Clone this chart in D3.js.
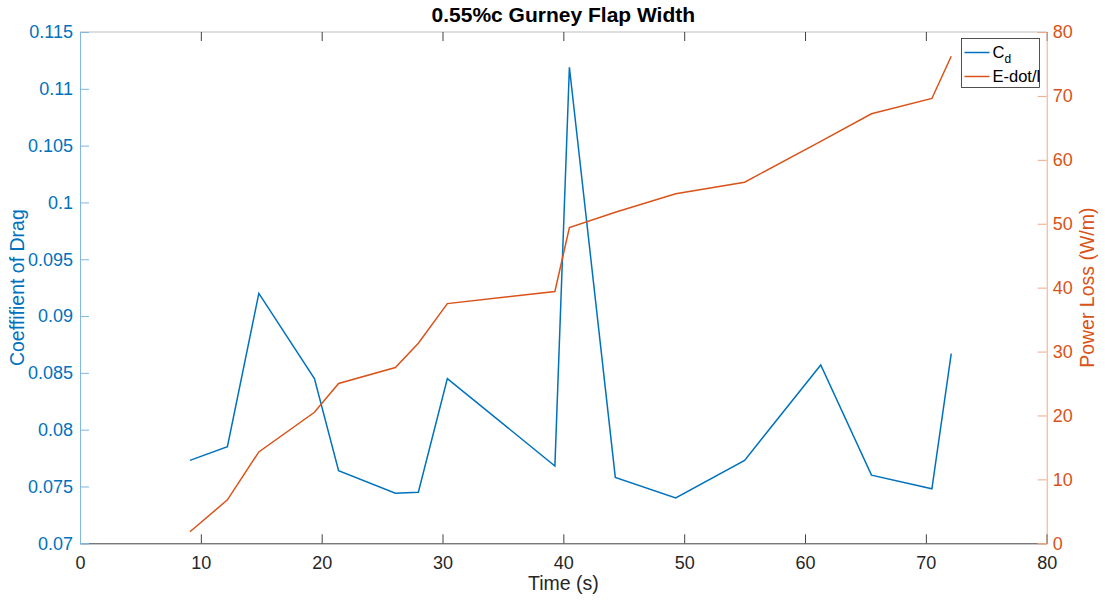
<!DOCTYPE html>
<html>
<head>
<meta charset="utf-8">
<script src="https://cdn.jsdelivr.net/npm/d3@7"></script>
<style>
  body { margin: 0; background: #fff; }
  text { font-family: "Liberation Sans", Arial, sans-serif; }
</style>
</head>
<body>
<svg width="1105" height="603"></svg>
<script>
// values
let time = [9.1, 12.2, 14.8, 19.4, 21.4, 26.1, 28.0, 30.4, 39.3, 40.5, 44.3, 49.3, 55.0, 61.3, 65.5, 70.5, 72.1]
let cd = [0.0773, 0.0785, 0.0920, 0.0845, 0.0764, 0.0744, 0.0745, 0.0845, 0.0768, 0.1119, 0.0758, 0.0740, 0.0773, 0.0857, 0.0760, 0.0748, 0.0867]
let power = [1.8, 6.8, 14.3, 20.5, 25.0, 27.5, 31.3, 37.5, 39.4, 49.4, 51.8, 54.7, 56.5, 62.9, 67.2, 69.6, 76.2]
let xTicks = [0, 10, 20, 30, 40, 50, 60, 70, 80]
let leftTicks = [0.07, 0.075, 0.08, 0.085, 0.09, 0.095, 0.1, 0.105, 0.11, 0.115]
let rightTicks = [0, 10, 20, 30, 40, 50, 60, 70, 80]

let blue = '#0072BD', orange = '#D95319'
let pLeft = 80, pRight = 1046.7, pTop = 32, pBottom = 543.3

let svg = d3.select('svg')
let x = d3.scaleLinear().domain([0, 80]).range([pLeft, pRight])
let yL = d3.scaleLinear().domain([0.07, 0.115]).range([pBottom, pTop])
let yR = d3.scaleLinear().domain([0, 80]).range([pBottom, pTop])

// top box line
svg.append('line')
  .attr('x1', pLeft).attr('x2', pRight).attr('y1', pTop).attr('y2', pTop)
  .attr('stroke', '#bdbdbd').attr('stroke-width', 1)

// bottom axis
let xAxis = svg.append('g').attr('transform', `translate(0,${pBottom})`)
  .call(d3.axisBottom(x).tickValues(xTicks).tickSize(-9).tickPadding(13).tickFormat(d3.format('d')))
xAxis.select('.domain').attr('stroke', '#404040')
xAxis.selectAll('.tick line').attr('stroke', '#404040')
xAxis.selectAll('text').attr('fill', '#262626').style('font-size', '18px')

// top ticks
svg.append('g').attr('transform', `translate(0,${pTop})`)
  .call(d3.axisTop(x).tickValues(xTicks).tickSize(-9).tickFormat(''))
  .call(g => g.select('.domain').remove())
  .selectAll('.tick line').attr('stroke', '#404040')

// left axis
let lAxis = svg.append('g').attr('transform', `translate(${pLeft},0)`)
  .call(d3.axisLeft(yL).tickValues(leftTicks).tickSize(-9).tickPadding(7).tickFormat(d => String(+d.toFixed(3))))
lAxis.select('.domain').attr('stroke', '#7fb8e0')
lAxis.selectAll('.tick line').attr('stroke', '#7fb8e0')
lAxis.selectAll('text').attr('fill', blue).style('font-size', '18px')

// right axis
let rAxis = svg.append('g').attr('transform', `translate(${pRight},0)`)
  .call(d3.axisRight(yR).tickValues(rightTicks).tickSize(-9).tickPadding(6))
rAxis.select('.domain').attr('stroke', '#f0a987')
rAxis.selectAll('.tick line').attr('stroke', '#f0a987')
rAxis.selectAll('text').attr('fill', orange).style('font-size', '18px')

// lines
let cdLine = d3.line().x((d, i) => x(time[i])).y(d => yL(d))
let pLine = d3.line().x((d, i) => x(time[i])).y(d => yR(d))

svg.append('path').datum(cd).attr('d', cdLine)
  .attr('fill', 'none').attr('stroke', blue).attr('stroke-width', 1.5)
svg.append('path').datum(power).attr('d', pLine)
  .attr('fill', 'none').attr('stroke', orange).attr('stroke-width', 1.5)

// titles
svg.append('text').attr('x', (pLeft + pRight) / 2).attr('y', 22)
  .attr('text-anchor', 'middle').style('font-size', '21px').style('font-weight', 'bold')
  .attr('fill', '#000').text('0.55%c Gurney Flap Width')
svg.append('text').attr('x', (pLeft + pRight) / 2).attr('y', 590)
  .attr('text-anchor', 'middle').style('font-size', '19.5px').attr('fill', '#262626').text('Time (s)')
svg.append('text').attr('transform', `translate(24,${(pTop + pBottom) / 2}) rotate(-90)`)
  .attr('text-anchor', 'middle').style('font-size', '19.5px').attr('fill', blue).text('Coeffifient of Drag')
svg.append('text').attr('transform', `translate(1094,${(pTop + pBottom) / 2}) rotate(-90)`)
  .attr('text-anchor', 'middle').style('font-size', '19.5px').attr('fill', orange).text('Power Loss (W/m)')

// legend
let lg = svg.append('g').attr('transform', 'translate(961.5,38.5)')
lg.append('rect').attr('width', 78).attr('height', 49)
  .attr('fill', '#fff').attr('stroke', '#262626').attr('stroke-width', 0.8)
let items = [{c: blue, y: 14}, {c: orange, y: 38}]
lg.selectAll('line.item').data(items).join('line').attr('class', 'item')
  .attr('x1', 3).attr('x2', 28).attr('y1', d => d.y).attr('y2', d => d.y)
  .attr('stroke', d => d.c).attr('stroke-width', 1.5)
let t1 = lg.append('text').attr('x', 31).attr('y', 19).style('font-size', '16.5px').attr('fill', '#000')
t1.append('tspan').text('C')
t1.append('tspan').attr('dy', 5).style('font-size', '12px').text('d')
lg.append('text').attr('x', 31).attr('y', 43).style('font-size', '16.5px').attr('fill', '#000').text('E-dot/l')
</script>
</body>
</html>
